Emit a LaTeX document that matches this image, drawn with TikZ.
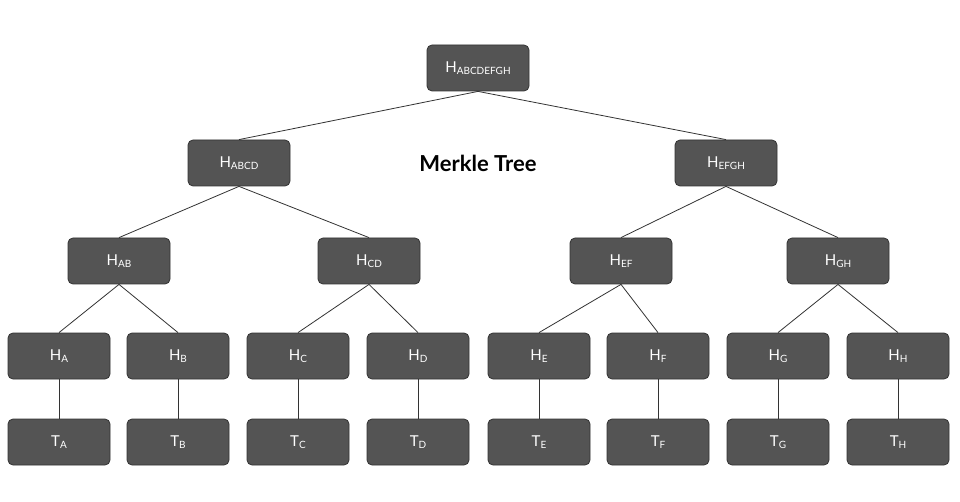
\documentclass[tikz,border=0pt]{standalone}
\usepackage{fontspec}
\setmainfont{Lato}
\begin{document}
\begin{tikzpicture}[x=1pt,y=-1pt,
 box/.style={draw=black!80,fill=black!67,rounded corners=5pt,minimum width=102pt,minimum height=46pt,text=white,font=\fontsize{15}{15}\selectfont,line width=0.8pt,inner sep=0pt},
 ln/.style={draw=black!80,line width=0.8pt}]
\useasboundingbox[fill=white] (0,0) rectangle (960,502);
\newcommand{\hs}[2]{#1\raisebox{-0.35ex}{\fontsize{10}{10}\selectfont #2}}
\node[box] (r) at (478,68) {\hs{H}{ABCDEFGH}};
\node[box] (l1) at (239,163) {\hs{H}{ABCD}};
\node[box] (r1) at (726,163) {\hs{H}{EFGH}};
\node[box] (ab) at (119,261) {\hs{H}{AB}};
\node[box] (cd) at (369,261) {\hs{H}{CD}};
\node[box] (ef) at (621,261) {\hs{H}{EF}};
\node[box] (gh) at (838,261) {\hs{H}{GH}};
\node[font=\bfseries\fontsize{22}{22}\selectfont] (t) at (478,163) {Merkle Tree};
\foreach \n/\x in {A/59,B/178,C/298,D/418,E/539,F/658,G/778,H/898}{
 \node[box] (h\n) at (\x,356) {\hs{H}{\n}};
 \node[box] (t\n) at (\x,442) {\hs{T}{\n}};
 \draw[ln] (h\n.south) -- (t\n.north);}
\draw[ln] (r.south) -- (l1.north);
\draw[ln] (r.south) -- (r1.north);
\draw[ln] (l1.south) -- (ab.north);
\draw[ln] (l1.south) -- (cd.north);
\draw[ln] (r1.south) -- (ef.north);
\draw[ln] (r1.south) -- (gh.north);
\draw[ln] (ab.south) -- (hA.north);
\draw[ln] (ab.south) -- (hB.north);
\draw[ln] (cd.south) -- (hC.north);
\draw[ln] (cd.south) -- (hD.north);
\draw[ln] (ef.south) -- (hE.north);
\draw[ln] (ef.south) -- (hF.north);
\draw[ln] (gh.south) -- (hG.north);
\draw[ln] (gh.south) -- (hH.north);
\end{tikzpicture}
\end{document}
